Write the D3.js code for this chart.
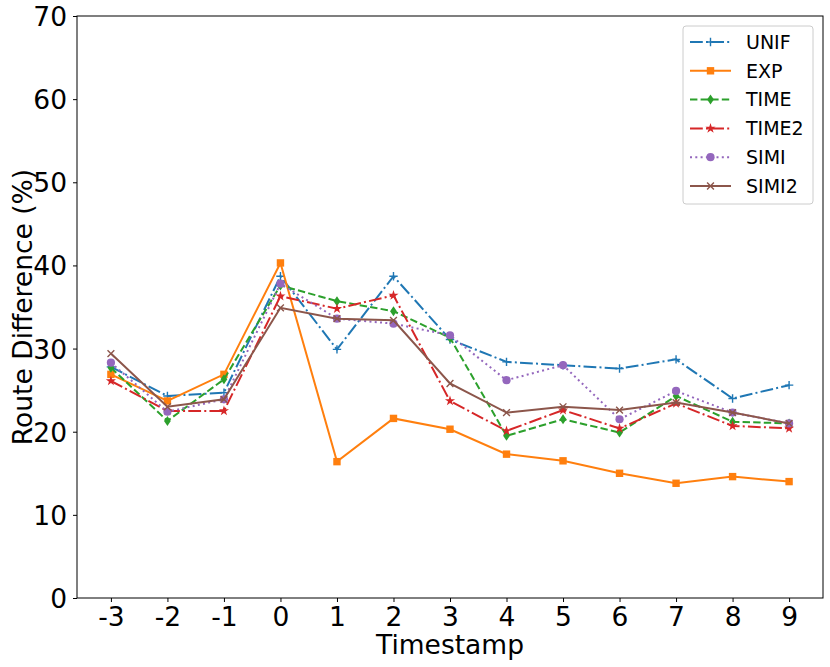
<!DOCTYPE html>
<html><head><meta charset="utf-8">
<script src="https://cdn.jsdelivr.net/npm/d3@7"></script>
<style>body{margin:0;background:#fff}svg{display:block}text{font-family:"DejaVu Sans",sans-serif}</style>
</head><body><svg id="c" width="830" height="667"></svg>
<script>
const timestamps = [-3,-2,-1,0,1,2,3,4,5,6,7,8,9];
const yTicks = [0,10,20,30,40,50,60,70];
const seriesNames = ["UNIF","EXP","TIME","TIME2","SIMI","SIMI2"];
const UNIF  = [27.8,24.3,24.7,38.7,29.9,38.7,31.1,28.4,28.0,27.6,28.7,24.0,25.6];
const EXP   = [26.9,23.7,26.9,40.3,16.4,21.6,20.3,17.3,16.5,15.0,13.8,14.6,14.0];
const TIME  = [27.7,21.3,26.3,37.6,35.7,34.5,31.3,19.5,21.5,19.9,24.3,21.2,21.0];
const TIME2 = [26.1,22.5,22.5,36.3,34.8,36.4,23.7,20.1,22.6,20.4,23.4,20.7,20.4];
const SIMI  = [28.3,22.4,23.9,37.8,33.6,33.0,31.6,26.2,28.0,21.5,24.9,22.3,21.0];
const SIMI2 = [29.4,23.0,23.9,34.9,33.6,33.4,25.8,22.3,23.0,22.6,23.5,22.3,21.0];
const seriesValues = [UNIF,EXP,TIME,TIME2,SIMI,SIMI2];

const colors = ["#1f77b4","#ff7f0e","#2ca02c","#d62728","#9467bd","#8c564b"];
const dashes = ["12.8,3.2,2,3.2", null, "7.4,3.2", "12.8,3.2,2,3.2", "2,3.3", null];
const markers = ["plus","square","diamond","star","circle","x"];

const L=77,R=823,T=16,B=598;
const FS=26.5;
const svg = d3.select("#c");
const x = d3.scaleLinear().domain([-3.6,9.6]).range([L,R]);
const y = d3.scaleLinear().domain([0,70]).range([B,T]);

const xAxis = svg.append("g").attr("transform",`translate(0,${B})`)
  .call(d3.axisBottom(x).tickValues(timestamps).tickFormat(d=>String(d)).tickSize(4).tickPadding(6));
const yAxis = svg.append("g").attr("transform",`translate(${L},0)`)
  .call(d3.axisLeft(y).tickValues(yTicks).tickFormat(d=>String(d)).tickSize(4).tickPadding(6));
[xAxis,yAxis].forEach(a=>{
  a.select(".domain").remove();
  a.selectAll("line").attr("stroke","#000").attr("stroke-width",1);
  a.selectAll("text").attr("font-size",FS).attr("fill","#000").attr("font-family","DejaVu Sans");
});
xAxis.selectAll("text").attr("y",28).attr("dy","0");
yAxis.selectAll("text").attr("dy","0.36em");

svg.append("rect").attr("x",L).attr("y",T).attr("width",R-L).attr("height",B-T)
  .attr("fill","none").attr("stroke","#000").attr("stroke-width",1);

svg.append("text").attr("x",(L+R)/2).attr("y",654).attr("text-anchor","middle")
  .attr("font-size",FS).text("Timestamp");
svg.append("text").attr("transform",`translate(32,${(T+B)/2}) rotate(-90)`).attr("text-anchor","middle")
  .attr("font-size",FS).text("Route Difference (%)");

function drawMarker(g, type, cx, cy, col){
  const s=4.2;
  if(type==="plus"){
    g.append("path").attr("d",`M${cx-s},${cy}H${cx+s}M${cx},${cy-s}V${cy+s}`).attr("stroke",col).attr("stroke-width",1.4);
  } else if(type==="x"){
    const t=3.4;
    g.append("path").attr("d",`M${cx-t},${cy-t}L${cx+t},${cy+t}M${cx-t},${cy+t}L${cx+t},${cy-t}`).attr("stroke",col).attr("stroke-width",1.4);
  } else if(type==="square"){
    g.append("rect").attr("x",cx-3.7).attr("y",cy-3.7).attr("width",7.4).attr("height",7.4).attr("fill",col);
  } else if(type==="diamond"){
    g.append("path").attr("d",`M${cx},${cy-5}L${cx+3.4},${cy}L${cx},${cy+5}L${cx-3.4},${cy}Z`).attr("fill",col);
  } else if(type==="circle"){
    g.append("circle").attr("cx",cx).attr("cy",cy).attr("r",4.1).attr("fill",col);
  } else if(type==="star"){
    g.append("path").attr("d",d3.symbol().type(d3.symbolStar).size(32)()).attr("transform",`translate(${cx},${cy})`).attr("fill",col);
  }
}

svg.append("defs").append("clipPath").attr("id","pc").append("rect")
  .attr("x",L).attr("y",T).attr("width",R-L).attr("height",B-T);
const plot = svg.append("g").attr("clip-path","url(#pc)");
const line = d3.line().x((d,i)=>x(timestamps[i])).y(d=>y(d));
seriesValues.forEach((vals,k)=>{
  const g = plot.append("g");
  g.append("path").attr("d",line(vals)).attr("fill","none").attr("stroke",colors[k])
    .attr("stroke-width",2).attr("stroke-dasharray",dashes[k]);
  vals.forEach((v,i)=>drawMarker(g,markers[k],x(timestamps[i]),y(v),colors[k]));
});

// legend
const lg = svg.append("g");
lg.append("rect").attr("x",683).attr("y",26).attr("width",130).attr("height",178).attr("rx",3)
  .attr("fill","#fff").attr("fill-opacity",0.8).attr("stroke","#ccc").attr("stroke-width",1);
seriesNames.forEach((n,k)=>{
  const yy = 42 + k*28.8;
  lg.append("path").attr("d",`M690,${yy}H731`).attr("stroke",colors[k]).attr("stroke-width",2)
    .attr("stroke-dasharray",dashes[k]);
  drawMarker(lg,markers[k],710.5,yy,colors[k]);
  lg.append("text").attr("x",746).attr("y",yy).attr("dy","0.36em").attr("font-size",19).text(n);
});
</script></body></html>
